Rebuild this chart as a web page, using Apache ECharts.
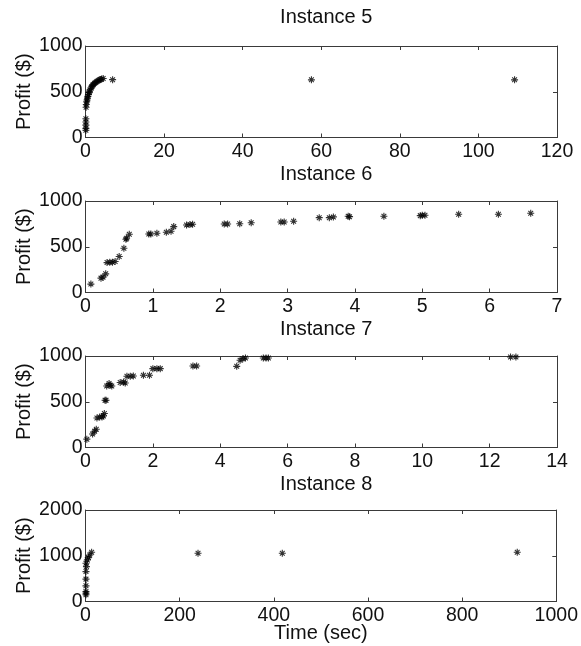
<!DOCTYPE html>
<html>
<head>
<meta charset="utf-8">
<script src="https://cdn.jsdelivr.net/npm/echarts@6/dist/echarts.min.js"></script>
<style>html,body{margin:0;padding:0;background:#fff}#c{width:581px;height:646px}</style>
</head>
<body>
<div id="c"></div>
<script>
// ---- data ----
const titles = ['Instance 5', 'Instance 6', 'Instance 7', 'Instance 8'];
const xMax = [120, 7, 14, 1000];
const xStep = [20, 1, 2, 200];
const yMax = [1000, 1000, 1000, 2000];
const yStep = [500, 500, 500, 1000];

const time5 = [0.1,0.1,0.1,0.1,0.1,0.15,0.2,0.3,0.4,0.5,0.6,0.75,0.9,1.0,1.2,1.4,1.6,1.8,2.0,2.3,2.6,2.9,3.2,3.5,3.8,4.1,4.5,6.9,57.5,109.2];
const profit5 = [80,100,135,170,205,330,360,390,410,430,450,470,490,500,520,540,555,570,580,592,602,612,620,628,634,640,645,632,630,630];

const time6 = [0.08,0.23,0.26,0.30,0.32,0.36,0.40,0.44,0.50,0.57,0.60,0.61,0.65,0.94,0.97,1.06,1.20,1.27,1.31,1.50,1.55,1.59,2.06,2.11,2.29,2.46,2.90,2.95,3.09,3.47,3.62,3.68,3.90,3.92,4.43,4.97,5.00,5.04,5.54,6.13,6.61];
const profit6 = [92,157,168,204,327,331,331,338,393,484,582,593,637,640,640,648,659,670,720,738,742,746,749,749,752,763,771,771,779,818,818,826,833,829,833,840,844,844,855,855,866];

const time7 = [0.04,0.21,0.27,0.32,0.34,0.42,0.49,0.53,0.56,0.58,0.61,0.63,0.70,0.73,0.78,1.03,1.13,1.18,1.23,1.33,1.42,1.72,1.90,2.00,2.12,2.22,3.19,3.30,4.49,4.59,4.67,4.75,5.28,5.36,5.43,12.62,12.78];
const profit7 = [91,148,178,200,323,334,334,345,371,516,516,672,700,680,672,710,716,705,778,778,782,789,789,862,862,862,891,891,887,953,971,978,978,978,978,989,989];

const time8 = [1,1,1,1,1,1,1,2,4,6,9,13,239,418,917];
const profit8 = [146,183,219,342,489,654,837,763,909,960,1018,1077,1055,1055,1077];

const times = [time5, time6, time7, time8];
const profits = [profit5, profit6, profit7, profit8];

// ---- layout ----
const FONT = 'Liberation Sans, Arial, sans-serif';
const gridTops = [46, 201, 356, 510];
const gridH = 91.5;
const gridLeft = 85.5, gridRight = 24;
const titleTops = [2, 159, 314, 469];
const star = 'path://M0,5L10,5M5,0L5,10M1.6,1.6L8.4,8.4M8.4,1.6L1.6,8.4';
const lineColor = '#3a3a3a';
const fmt = v => String(v);

const grid = [], xAxis = [], yAxis = [], series = [], title = [];
for (let i = 0; i < 4; i++) {
  grid.push({left: gridLeft, right: gridRight, top: gridTops[i], height: gridH});
  title.push({
    text: titles[i], left: (gridLeft + 581 - gridRight) / 2, top: titleTops[i], textAlign: 'center',
    textStyle: {fontFamily: FONT, fontSize: 20, fontWeight: 'normal', color: '#111'}
  });
  const common = {
    gridIndex: i, type: 'value', splitLine: {show: false},
    axisLine: {show: true, onZero: false, lineStyle: {color: lineColor, width: 1}},
    axisTick: {show: true, inside: true, length: 4, lineStyle: {color: lineColor}}
  };
  xAxis.push(Object.assign({}, common, {
    position: 'bottom', min: 0, max: xMax[i], interval: xStep[i],
    axisLabel: {color: '#111', fontFamily: FONT, fontSize: 19.5, margin: 4, formatter: fmt},
    name: i === 3 ? 'Time (sec)' : '', nameLocation: 'middle', nameGap: 22, nameMoveOverlap: false,
    nameTextStyle: {color: '#111', fontFamily: FONT, fontSize: 20}
  }));
  xAxis.push(Object.assign({}, common, {
    position: 'top', min: 0, max: xMax[i], interval: xStep[i], axisLabel: {show: false}
  }));
  yAxis.push(Object.assign({}, common, {
    position: 'left', min: 0, max: yMax[i], interval: yStep[i],
    axisLabel: {color: '#111', fontFamily: FONT, fontSize: 19.5, margin: 3, formatter: fmt},
    name: 'Profit ($)', nameLocation: 'middle', nameGap: 51, nameMoveOverlap: false,
    nameTextStyle: {color: '#111', fontFamily: FONT, fontSize: 20}
  }));
  yAxis.push(Object.assign({}, common, {
    position: 'right', min: 0, max: yMax[i], interval: yStep[i], axisLabel: {show: false}
  }));
  series.push({
    type: 'scatter', xAxisIndex: 2 * i, yAxisIndex: 2 * i, clip: false,
    symbol: star, symbolSize: 7,
    itemStyle: {color: '#000', borderColor: '#000', borderWidth: 1.1},
    data: times[i].map((t, k) => [t, profits[i][k]]),
    silent: true, animation: false
  });
}

const chart = echarts.init(document.getElementById('c'), null, {renderer: 'canvas'});
chart.setOption({backgroundColor: '#fff', animation: false, title, grid, xAxis, yAxis, series});
</script>
</body>
</html>
